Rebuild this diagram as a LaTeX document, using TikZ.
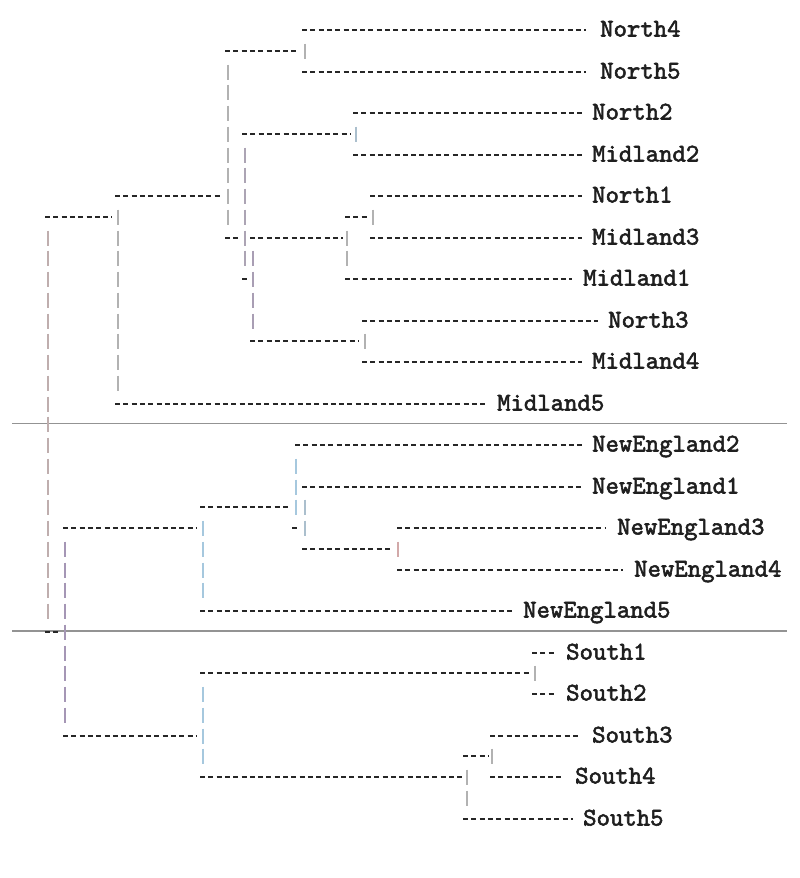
\documentclass[tikz,border=0pt]{standalone}
\usepackage{fontspec}
\newfontfamily\monofam{lmmono10-regular.otf}[FakeBold=2.2]
\definecolor{bargray}{HTML}{B2B2B2}
\definecolor{barblue}{HTML}{A6C8DE}
\definecolor{barpurple}{HTML}{A596B5}
\definecolor{barpink}{HTML}{D2A9A9}
\newcommand\mkhd[3]{\draw[dl] (#2,{round(30+20.75*(#1))}) -- (#3,{round(30+20.75*(#1))});}
\newcommand\mkvb[4][bargray]{\foreach \r in {#3,...,#4}{\draw[bar,#1] (#2,{round(30+20.75*\r)-7.5}) -- (#2,{round(30+20.75*\r)+7.5});}}
\newcommand\mklbl[4]{\node[lbl] (#1) at (#2,{round(30+20.75*(#3))+6.5}) {#4};}
\begin{document}
\begin{tikzpicture}[x=1pt,y=-1pt,
  dl/.style={line width=2pt, black!85, dash pattern=on 5pt off 3.3pt},
  bar/.style={line width=1.6pt},
  sep/.style={line width=1.5pt, gray!85},
  lbl/.style={anchor=base west, inner sep=0pt, font=\monofam\fontsize{25.5}{27}\selectfont, text=black!88}]
\useasboundingbox (0,0) rectangle (800,878);
% separators
\draw[sep] (12,423.5) -- (787,423.5);
\draw[sep] (12,631) -- (787,631);
% labels
\mklbl{n4}{600}{0}{North4}
\mklbl{n5}{600}{2}{North5}
\mklbl{n2}{592}{4}{North2}
\mklbl{m2}{592}{6}{Midland2}
\mklbl{n1}{592}{8}{North1}
\mklbl{m3}{592}{10}{Midland3}
\mklbl{m1}{583}{12}{Midland1}
\mklbl{n3}{608}{14}{North3}
\mklbl{m4}{592}{16}{Midland4}
\mklbl{m5}{497}{18}{Midland5}
\mklbl{ne2}{592}{20}{NewEngland2}
\mklbl{ne1}{592}{22}{NewEngland1}
\mklbl{ne3}{617}{24}{NewEngland3}
\mklbl{ne4}{634}{26}{NewEngland4}
\mklbl{ne5}{523}{28}{NewEngland5}
\mklbl{s1}{566}{30}{South1}
\mklbl{s2}{566}{32}{South2}
\mklbl{s3}{592}{34}{South3}
\mklbl{s4}{575}{36}{South4}
\mklbl{s5}{583}{38}{South5}
% horizontal dashed runs
\mkhd{0}{302}{586}
\mkhd{1}{225}{298}
\mkhd{2}{302}{586}
\mkhd{4}{353}{582}
\mkhd{5}{242}{350}
\mkhd{6}{353}{582}
\mkhd{8}{115}{222}
\mkhd{8}{370}{582}
\mkhd{9}{45}{112}
\mkhd{9}{345}{368}
\mkhd{10}{225}{240}
\mkhd{10}{250}{343}
\mkhd{10}{370}{582}
\mkhd{12}{242}{247}
\mkhd{12}{345}{572}
\mkhd{14}{362}{598}
\mkhd{15}{250}{358}
\mkhd{16}{362}{582}
\mkhd{18}{115}{486}
\mkhd{20}{295}{582}
\mkhd{22}{302}{582}
\mkhd{23}{200}{290}
\mkhd{24}{63}{197}
\mkhd{24}{292}{297}
\mkhd{24}{397}{606}
\mkhd{25}{302}{393}
\mkhd{26}{397}{623}
\mkhd{28}{200}{513}
\mkhd{29}{45}{60}
\mkhd{30}{532}{556}
\mkhd{31}{200}{530}
\mkhd{32}{532}{556}
\mkhd{34}{63}{196}
\mkhd{34}{490}{581}
\mkhd{35}{463}{488}
\mkhd{36}{200}{462}
\mkhd{36}{490}{564}
\mkhd{38}{463}{573}
% vertical bars
\mkvb{305}{1}{1}
\mkvb{228}{2}{9}
\mkvb[barblue!60!bargray]{356}{5}{5}
\mkvb[barpurple!50!bargray]{245}{6}{11}
\mkvb{118}{9}{17}
\mkvb[barpink!40!bargray]{48}{10}{28}
\mkvb{373}{9}{9}
\mkvb{347}{10}{11}
\mkvb[barpurple!70!bargray]{253}{11}{14}
\mkvb{365}{15}{15}
\mkvb[barblue]{296}{21}{23}
\mkvb[barblue!60!bargray]{305}{23}{24}
\mkvb[barpink]{398}{25}{25}
\mkvb[barblue]{203}{24}{27}
\mkvb[barpurple]{65}{25}{33}
\mkvb{535}{31}{31}
\mkvb[barblue]{203}{32}{35}
\mkvb{492}{35}{35}
\mkvb{467}{36}{37}
\end{tikzpicture}
\end{document}
